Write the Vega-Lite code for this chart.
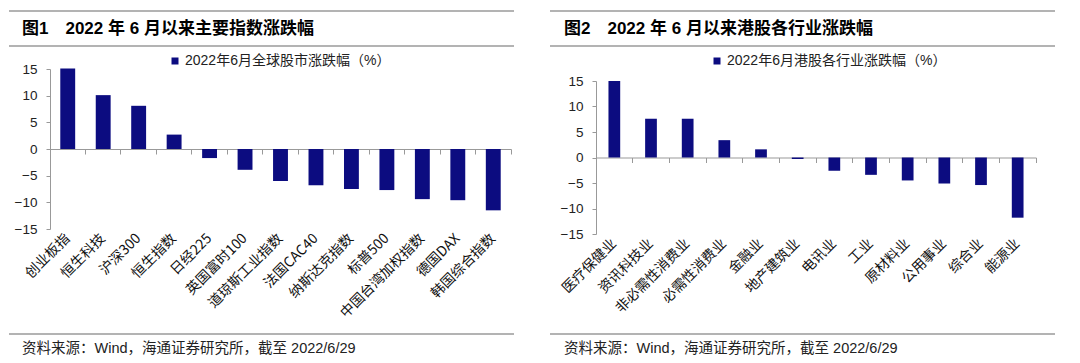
{
  "$schema": "https://vega.github.io/schema/vega-lite/v6.json",
  "padding": {"left": 8, "top": 10, "right": 0, "bottom": 0},
  "background": "white",
  "config": {"view": {"stroke": null}, "font": "Liberation Sans, Noto Sans CJK SC"},
  "spacing": 34,
  "bounds": "full",
  "resolve": {"scale": {"color": "independent"}, "legend": {"color": "independent"}},
  "hconcat": [
    {
      "spacing": 0,
      "bounds": "flush",
      "resolve": {"scale": {"color": "independent"}, "legend": {"color": "independent"}},
      "vconcat": [
        {
          "width": 505, "height": 35,
          "data": {"values": [{"title": "图1　2022 年 6 月以来主要指数涨跌幅"}]},
          "layer": [
            {"mark": {"type": "rule", "color": "#9a9a9a", "strokeWidth": 1.5},
             "encoding": {"y": {"datum": 1, "type": "quantitative", "scale": {"domain": [0, 1]}, "axis": null}}},
            {"mark": {"type": "rule", "color": "#9a9a9a", "strokeWidth": 1.5},
             "encoding": {"y": {"datum": 0, "type": "quantitative", "axis": null}}},
            {"mark": {"type": "text", "align": "left", "dx": 13, "fontSize": 17, "fontWeight": "bold", "color": "#000"},
             "encoding": {"text": {"field": "title"},
               "x": {"datum": 0, "type": "quantitative", "scale": {"domain": [0, 1]}, "axis": null},
               "y": {"datum": 0.5, "type": "quantitative", "axis": null}}}
          ]
        },
        {
          "width": 505, "height": 288,
          "data": {"values": [
            {"name": "创业板指", "value": 15.1},
            {"name": "恒生科技", "value": 10.1},
            {"name": "沪深300", "value": 8.1},
            {"name": "恒生指数", "value": 2.7},
            {"name": "日经225", "value": -1.7},
            {"name": "英国富时100", "value": -3.9},
            {"name": "道琼斯工业指数", "value": -6.0},
            {"name": "法国CAC40", "value": -6.8},
            {"name": "纳斯达克指数", "value": -7.5},
            {"name": "标普500", "value": -7.7},
            {"name": "中国台湾加权指数", "value": -9.4},
            {"name": "德国DAX", "value": -9.6},
            {"name": "韩国综合指数", "value": -11.5}
          ]},
          "layer": [
            {
              "mark": {"type": "bar", "width": {"band": 0.42}},
              "encoding": {
                "x": {"field": "name", "type": "nominal", "sort": null,
                  "scale": {"range": [41, 502], "paddingInner": 0, "paddingOuter": 0},
                  "axis": {"orient": "bottom", "offset": -105, "labelAngle": -45, "labelAlign": "right", "labelBaseline": "middle",
                    "labelFontSize": 14, "labelFont": "Noto Sans CJK SC", "labelColor": "#111", "labelPadding": 7,
                    "ticks": false, "domain": false, "title": null}},
                "y": {"field": "value", "type": "quantitative",
                  "scale": {"domain": [-15, 15], "range": [183, 23], "nice": false, "zero": false},
                  "axis": {"offset": -41, "values": [-15, -10, -5, 0, 5, 10, 15], "grid": false, "tickSize": 4, "labelPadding": 9,
                    "domainColor": "#999", "tickColor": "#999", "labelFontSize": 13.5, "labelFont": "Liberation Sans", "labelColor": "#222", "title": null}},
                "color": {"datum": "2022年6月全球股市涨跌幅（%）", "type": "nominal",
                  "scale": {"range": ["#0c0c80"]},
                  "legend": {"orient": "none", "legendX": 159, "legendY": 8, "direction": "horizontal", "padding": 0, "title": null, "labelLimit": 0,
                    "symbolType": "square", "symbolSize": 49, "symbolStrokeWidth": 0, "labelFontSize": 14, "labelColor": "#222", "labelOffset": 3}}
              }
            },
            {
              "mark": {"type": "point", "opacity": 0},
              "encoding": {
                "x": {"field": "name", "type": "nominal", "sort": null,
                  "axis": {"orient": "bottom", "offset": -185, "labels": false, "ticks": true, "tickSize": 5, "bandPosition": 1,
                    "domain": true, "domainColor": "#999", "tickColor": "#999", "title": null}},
                "y": {"datum": 0, "type": "quantitative"}
              }
            }
          ],
          "resolve": {"axis": {"x": "independent"}}
        },
        {
          "width": 505, "height": 30,
          "data": {"values": [{"src": "资料来源：Wind，海通证券研究所，截至 2022/6/29"}]},
          "layer": [
            {"mark": {"type": "rule", "color": "#9a9a9a", "strokeWidth": 1.5},
             "encoding": {"y": {"datum": 1, "type": "quantitative", "scale": {"domain": [0, 1]}, "axis": null}}},
            {"mark": {"type": "text", "align": "left", "dx": 13, "fontSize": 14.5, "color": "#222"},
             "encoding": {"text": {"field": "src"},
               "x": {"datum": 0, "type": "quantitative", "scale": {"domain": [0, 1]}, "axis": null},
               "y": {"datum": 0.5, "type": "quantitative", "axis": null}}}
          ]
        }
      ]
    },
    {
      "spacing": 0,
      "bounds": "flush",
      "resolve": {"scale": {"color": "independent"}, "legend": {"color": "independent"}},
      "vconcat": [
        {
          "width": 505, "height": 35,
          "data": {"values": [{"title": "图2　2022 年 6 月以来港股各行业涨跌幅"}]},
          "layer": [
            {"mark": {"type": "rule", "color": "#9a9a9a", "strokeWidth": 1.5},
             "encoding": {"y": {"datum": 1, "type": "quantitative", "scale": {"domain": [0, 1]}, "axis": null}}},
            {"mark": {"type": "rule", "color": "#9a9a9a", "strokeWidth": 1.5},
             "encoding": {"y": {"datum": 0, "type": "quantitative", "axis": null}}},
            {"mark": {"type": "text", "align": "left", "dx": 14, "fontSize": 17, "fontWeight": "bold", "color": "#000"},
             "encoding": {"text": {"field": "title"},
               "x": {"datum": 0, "type": "quantitative", "scale": {"domain": [0, 1]}, "axis": null},
               "y": {"datum": 0.5, "type": "quantitative", "axis": null}}}
          ]
        },
        {
          "width": 505, "height": 288,
          "data": {"values": [
            {"name": "医疗保健业", "value": 15.0},
            {"name": "资讯科技业", "value": 7.6},
            {"name": "非必需性消费业", "value": 7.6},
            {"name": "必需性消费业", "value": 3.4},
            {"name": "金融业", "value": 1.6},
            {"name": "地产建筑业", "value": -0.3},
            {"name": "电讯业", "value": -2.6},
            {"name": "工业", "value": -3.4},
            {"name": "原材料业", "value": -4.5},
            {"name": "公用事业", "value": -5.1},
            {"name": "综合业", "value": -5.4},
            {"name": "能源业", "value": -11.8}
          ]},
          "layer": [
            {
              "mark": {"type": "bar", "width": {"band": 0.32}},
              "encoding": {
                "x": {"field": "name", "type": "nominal", "sort": null,
                  "scale": {"range": [46, 486], "paddingInner": 0, "paddingOuter": 0},
                  "axis": {"orient": "bottom", "offset": -100, "labelAngle": -45, "labelAlign": "right", "labelBaseline": "middle",
                    "labelFontSize": 14, "labelFont": "Noto Sans CJK SC", "labelColor": "#111", "labelPadding": 7,
                    "ticks": false, "domain": false, "title": null}},
                "y": {"field": "value", "type": "quantitative",
                  "scale": {"domain": [-15, 15], "range": [188, 35], "nice": false, "zero": false},
                  "axis": {"offset": -46, "values": [-15, -10, -5, 0, 5, 10, 15], "grid": false, "tickSize": 4, "labelPadding": 9,
                    "domainColor": "#999", "tickColor": "#999", "labelFontSize": 13.5, "labelFont": "Liberation Sans", "labelColor": "#222", "title": null}},
                "color": {"datum": "2022年6月港股各行业涨跌幅（%）", "type": "nominal",
                  "scale": {"range": ["#0c0c80"]},
                  "legend": {"orient": "none", "legendX": 160, "legendY": 8, "direction": "horizontal", "padding": 0, "title": null, "labelLimit": 0,
                    "symbolType": "square", "symbolSize": 49, "symbolStrokeWidth": 0, "labelFontSize": 14, "labelColor": "#222", "labelOffset": 3}}
              }
            },
            {
              "mark": {"type": "point", "opacity": 0},
              "encoding": {
                "x": {"field": "name", "type": "nominal", "sort": null,
                  "axis": {"orient": "bottom", "offset": -176.5, "labels": false, "ticks": true, "tickSize": 5, "bandPosition": 1,
                    "domain": true, "domainColor": "#999", "tickColor": "#999", "title": null}},
                "y": {"datum": 0, "type": "quantitative"}
              }
            }
          ],
          "resolve": {"axis": {"x": "independent"}}
        },
        {
          "width": 505, "height": 30,
          "data": {"values": [{"src": "资料来源：Wind，海通证券研究所，截至 2022/6/29"}]},
          "layer": [
            {"mark": {"type": "rule", "color": "#9a9a9a", "strokeWidth": 1.5},
             "encoding": {"y": {"datum": 1, "type": "quantitative", "scale": {"domain": [0, 1]}, "axis": null}}},
            {"mark": {"type": "text", "align": "left", "dx": 14, "fontSize": 14.5, "color": "#222"},
             "encoding": {"text": {"field": "src"},
               "x": {"datum": 0, "type": "quantitative", "scale": {"domain": [0, 1]}, "axis": null},
               "y": {"datum": 0.5, "type": "quantitative", "axis": null}}}
          ]
        }
      ]
    }
  ]
}
